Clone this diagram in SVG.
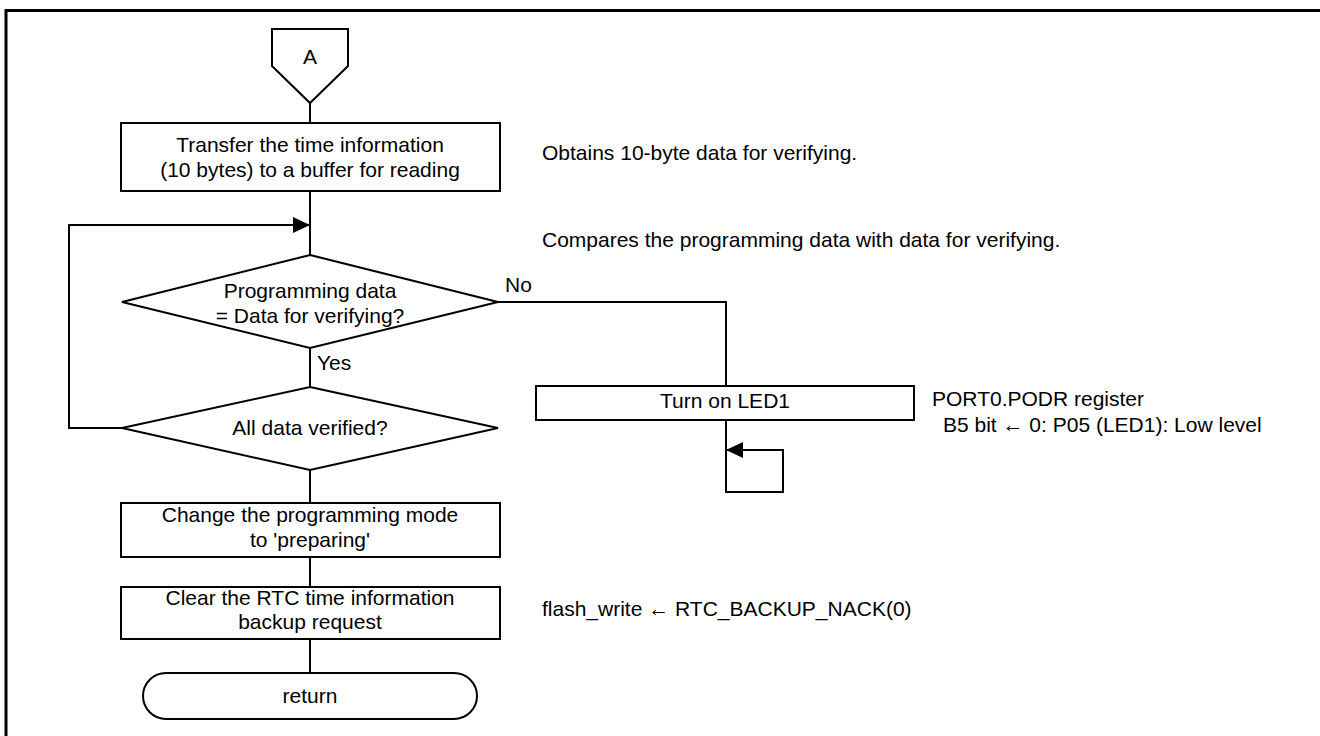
<svg xmlns="http://www.w3.org/2000/svg" width="1320" height="736" viewBox="0 0 1320 736">
<style>
.s{fill:#fff;stroke:#000;stroke-width:2}
.c{fill:none;stroke:#000;stroke-width:2}
text{font-family:"Liberation Sans",Arial,sans-serif;font-size:21px;fill:#000}
.m{text-anchor:middle}
</style>
<defs>
<marker id="ah" markerUnits="userSpaceOnUse" markerWidth="18" markerHeight="16" refX="17" refY="8" orient="auto">
<path d="M0,0 L17,8 L0,16 Z" fill="#000"/>
</marker>
</defs>
<rect width="1320" height="736" fill="#fff"/>
<path d="M6,736 V10.5 H1320" fill="none" stroke="#000" stroke-width="3"/>
<g id="connectors">
<path class="c" d="M310,103 V123"/>
<path class="c" d="M310,191 V255"/>
<path class="c" d="M122,428 H69 V225 H310" marker-end="url(#ah)"/>
<path class="c" d="M310,348 V387"/>
<path class="c" d="M498,302 H726 V386"/>
<path class="c" d="M310,470 V503"/>
<path class="c" d="M310,557 V587"/>
<path class="c" d="M310,639 V673"/>
<path class="c" d="M726,420 V492 H783 V450 H726" marker-end="url(#ah)"/>
<text x="505" y="292">No</text>
<text x="317" y="370">Yes</text>
</g>
<g id="nodeA">
<path class="s" d="M272,29 H348 V66 L310,103 L272,66 Z"/>
<text class="m" x="310" y="64">A</text>
</g>
<g id="transfer">
<rect class="s" x="121" y="123" width="379" height="68"/>
<text class="m" x="310" y="152">Transfer the time information</text>
<text class="m" x="310" y="177">(10 bytes) to a buffer for reading</text>
</g>
<g id="compare">
<path class="s" d="M310,255 L498,302 L310,348 L122,302 Z"/>
<text class="m" x="310" y="298">Programming data</text>
<text class="m" x="310" y="323">= Data for verifying?</text>
</g>
<g id="allverified">
<path class="s" d="M310,387 L498,428 L310,470 L122,428 Z"/>
<text class="m" x="310" y="435">All data verified?</text>
</g>
<g id="changemode">
<rect class="s" x="121" y="503" width="379" height="54"/>
<text class="m" x="310" y="522">Change the programming mode</text>
<text class="m" x="310" y="547">to 'preparing'</text>
</g>
<g id="clear">
<rect class="s" x="121" y="587" width="379" height="52"/>
<text class="m" x="310" y="605">Clear the RTC time information</text>
<text class="m" x="310" y="629">backup request</text>
</g>
<g id="return">
<rect class="s" x="143" y="673" width="334" height="46" rx="23" ry="23"/>
<text class="m" x="310" y="703">return</text>
</g>
<g id="led">
<rect class="s" x="536" y="386" width="378" height="34"/>
<text class="m" x="725" y="408">Turn on LED1</text>
</g>
<g id="notes">
<text x="542" y="160">Obtains 10-byte data for verifying.</text>
<text x="542" y="247">Compares the programming data with data for verifying.</text>
<text x="932" y="406">PORT0.PODR register</text>
<text x="943" y="432">B5 bit ← 0: P05 (LED1): Low level</text>
<text x="542" y="616">flash_write ← RTC_BACKUP_NACK(0)</text>
</g>
</svg>
